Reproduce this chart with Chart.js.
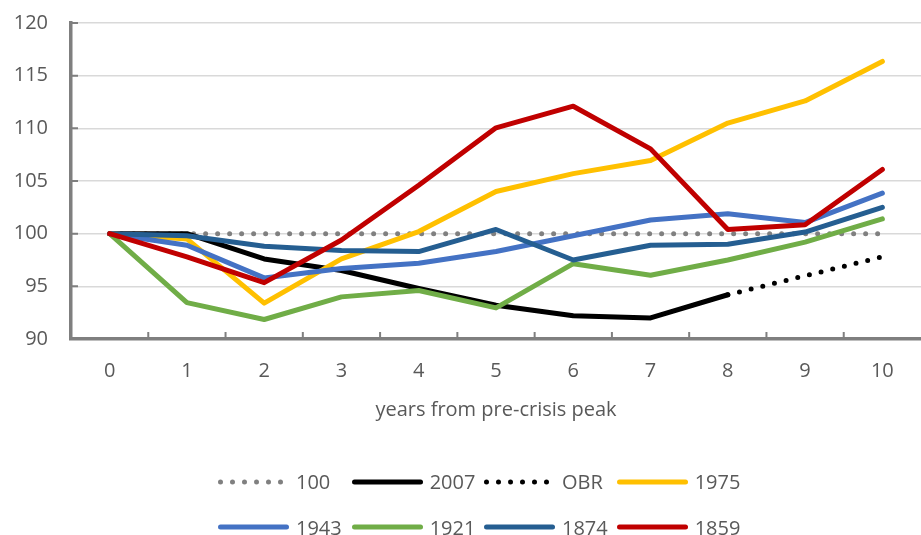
<!DOCTYPE html>
<html>
<head>
<meta charset="utf-8">
<script src="https://cdn.jsdelivr.net/npm/chart.js@4"></script>
<style>
    html, body { margin: 0; padding: 0; background: #fff; }
    #wrap { position: relative; width: 921px; height: 535px; }
    #legend { position: absolute; left: 0; top: 0; width: 921px; height: 535px; pointer-events: none;
              font-family: 'Open Sans', sans-serif; font-size: 20px; color: #595959; }
    .item { position: absolute; height: 28px; display: flex; align-items: center; white-space: nowrap; }
    .item svg { margin-right: 6px; }
</style>
</head>
<body>
<div id="wrap">
    <canvas id="crisisChart" width="921" height="535"></canvas>
    <div id="legend"></div>
</div>
<script>
// years from pre-crisis peak
const years = ['0', '1', '2', '3', '4', '5', '6', '7', '8', '9', '10'];
const yTicks = [90, 95, 100, 105, 110, 115, 120];

const base100 = [100, 100, 100, 100, 100, 100, 100, 100, 100, 100, 100];
const y2007 = [100, 100, 97.6, 96.5, 94.8, 93.2, 92.2, 92.0, 94.2, null, null];
const obr = [null, null, null, null, null, null, null, null, 94.2, 96.0, 97.8];
const y1975 = [100, 99.5, 93.4, 97.6, 100.2, 104.0, 105.7, 106.95, 110.5, 112.6, 116.35];
const y1943 = [100, 98.9, 95.8, 96.7, 97.2, 98.3, 99.8, 101.3, 101.9, 101.05, 103.85];
const y1921 = [100, 93.45, 91.85, 94.0, 94.6, 92.95, 97.15, 96.05, 97.5, 99.2, 101.4];
const y1874 = [100, 99.8, 98.8, 98.4, 98.3, 100.4, 97.5, 98.9, 99.0, 100.15, 102.5];
const y1859 = [100, 97.8, 95.35, 99.4, 104.6, 110.05, 112.1, 108.05, 100.4, 100.85, 106.1];

const seriesNames = ['100', '2007', 'OBR', '1975', '1943', '1921', '1874', '1859'];
const seriesData = [base100, y2007, obr, y1975, y1943, y1921, y1874, y1859];
const seriesColors = ['#808080', '#000000', '#000000', '#FFC000', '#4472C4', '#70AD47', '#255E91', '#C00000'];
const dotted = [true, false, true, false, false, false, false, false];

const textColor = '#595959';
const axisColor = '#7f7f7f';

const datasets = seriesNames.map(function(name, i) {
    return {
        label: name,
        data: seriesData[i],
        borderColor: seriesColors[i],
        backgroundColor: seriesColors[i],
        borderWidth: 5,
        borderDash: dotted[i] ? [0, 12] : [],
        borderCapStyle: 'round',
        borderJoinStyle: 'round',
        pointRadius: 0,
        pointHoverRadius: 0,
        tension: 0,
        spanGaps: false,
        order: seriesNames.length - i   // later series on top, like the original
    };
});

// inward tick marks on both axes
const innerTicks = {
    id: 'innerTicks',
    beforeDatasetsDraw(chart) {
        const ctx = chart.ctx;
        const x = chart.scales.x;
        const y = chart.scales.y;
        const area = chart.chartArea;
        ctx.save();
        ctx.strokeStyle = axisColor;
        ctx.lineWidth = 2;
        ctx.beginPath();
        for (let i = 0; i < years.length - 1; i++) {
            const px = (x.getPixelForValue(i) + x.getPixelForValue(i + 1)) / 2;
            ctx.moveTo(px, area.bottom);
            ctx.lineTo(px, area.bottom - 7);
        }
        yTicks.forEach(function(v) {
            const py = y.getPixelForValue(v);
            ctx.moveTo(area.left, py);
            ctx.lineTo(area.left + 7, py);
        });
        ctx.stroke();
        ctx.restore();
    }
};

const ctx = document.getElementById('crisisChart').getContext('2d');
const chart = new Chart(ctx, {
    type: 'line',
    data: { labels: years, datasets: datasets },
    options: {
        responsive: false,
        animation: false,
        events: [],
        layout: { padding: { top: 23, left: 14, right: 0, bottom: 109 } },
        plugins: {
            legend: { display: false },
            tooltip: { enabled: false }
        },
        scales: {
            x: {
                offset: true,
                grid: { display: false, drawTicks: false },
                border: { display: true, color: axisColor, width: 3.5 },
                afterFit: function(scale) { scale.height = 87; },
                ticks: {
                    color: textColor,
                    padding: 20,
                    maxRotation: 0,
                    font: { family: 'Open Sans', size: 20 }
                },
                title: {
                    display: true,
                    text: 'years from pre-crisis peak',
                    color: textColor,
                    padding: { top: 4, bottom: 4 },
                    font: { family: 'Open Sans', size: 20 }
                }
            },
            y: {
                min: 90,
                max: 120,
                afterBuildTicks: function(scale) {
                    scale.ticks = yTicks.map(function(v) { return { value: v }; });
                },
                afterFit: function(scale) { scale.width = 57; },
                grid: {
                    color: '#d9d9d9',
                    lineWidth: 1.5,
                    drawTicks: true,
                    tickLength: 23,
                    tickColor: 'rgba(0,0,0,0)'
                },
                border: { display: true, color: axisColor, width: 3.5 },
                ticks: {
                    color: textColor,
                    padding: 0,
                    font: { family: 'Open Sans', size: 20 }
                }
            }
        }
    },
    plugins: [innerTicks]
});

// legend laid out in two rows of four, like the original
const legendEl = document.getElementById('legend');
const colLeft = [218, 351.7, 484, 616.7];
const rowMid = [481.5, 527];
datasets.forEach(function(ds, i) {
    const item = document.createElement('div');
    item.className = 'item';
    item.style.left = colLeft[i % 4] + 'px';
    item.style.top = (rowMid[Math.floor(i / 4)] - 14) + 'px';
    const dash = dotted[i] ? ' stroke-dasharray="0 12"' : '';
    item.innerHTML =
        '<svg width="72" height="10"><line x1="2.5" y1="5" x2="68.5" y2="5" stroke="' + ds.borderColor +
        '" stroke-width="5" stroke-linecap="round"' + dash + '/></svg><span>' + ds.label + '</span>';
    legendEl.appendChild(item);
});
</script>
</body>
</html>
